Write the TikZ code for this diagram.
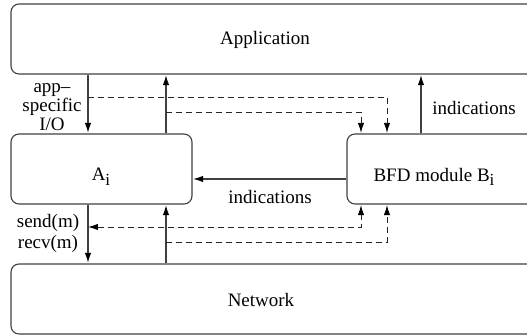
\documentclass[tikz,border=0pt]{standalone}
\usepackage{fontspec}
\setmainfont{Liberation Serif}
\usetikzlibrary{arrows.meta}
\newcommand{\sub}[1]{\raisebox{-0.55ex}{\fontsize{8.5}{8.5}\selectfont #1}}
\begin{document}
\begin{tikzpicture}[x=0.5pt,y=-0.5pt,
  font=\fontsize{9.5}{11}\selectfont,
  tip/.tip={Latex[length=5pt,width=3.2pt,color=black]},
  box/.style={draw=black!75,line width=0.55pt,rounded corners=4pt,inner sep=0pt},
  txt/.style={inner sep=0pt},
  sol/.style={draw=black!75,line width=0.55pt,-tip,shorten >=0.3pt},
  dsh/.style={draw=black!85,line width=0.45pt,dash pattern=on 3pt off 2pt,shorten >=0.3pt}]
\useasboundingbox (0,0) rectangle (527,335);
\clip (0,0) rectangle (527,335);
% boxes
\node[box,minimum width=270pt,minimum height=35pt] (app) at (281,39) {};
\node[box,minimum width=90.5pt,minimum height=35pt] (A) at (101.5,169) {};
\node[box,minimum width=100pt,minimum height=35pt] (B) at (447,169) {};
\node[box,minimum width=270pt,minimum height=35pt] (net) at (281,299) {};
% texts
\node[txt] (appt) at (265,40) {Application};
\node[txt] (At) at (101,177) {A\sub{i}};
\node[txt] (Bt) at (434,177) {BFD module B\sub{i}};
\node[txt] (nett) at (261,300) {Network};
% column coordinates
\coordinate (xa) at (88,0);
\coordinate (xb) at (166,0);
\coordinate (xc) at (421,0);
\coordinate (xd) at (361,0);
\coordinate (xe) at (387,0);
% solid arrows
\draw[sol] (app.south -| xa) -- (A.north -| xa);
\draw[sol] (A.north -| xb) -- (app.south -| xb);
\draw[sol] (B.north -| xc) -- (app.south -| xc);
\draw[sol] (B.west |- 0,179) -- (A.east |- 0,179);
\draw[sol] (A.south -| xa) -- (net.north -| xa);
\draw[sol] (net.north -| xb) -- (A.south -| xb);
% dashed connectors
\coordinate (d1) at (88,97);
\coordinate (d2) at (166,112);
\coordinate (d3) at (88,227);
\coordinate (d4) at (166,242);
\draw[dsh,-tip] (d1) -| (B.north -| xe);
\draw[dsh,-tip] (d2) -| (B.north -| xd);
\draw[dsh,tip-tip] (d3) -| (B.south -| xd);
\draw[dsh,-tip] (d4) -| (B.south -| xe);
% labels
\node[txt,align=center,font=\fontsize{9.5}{8.3}\selectfont] (lio) at (52,107) {app–\\specific\\I/O};
\node[txt,align=center,font=\fontsize{9.5}{10.5}\selectfont] (lsr) at (48,233) {send(m)\\recv(m)};
\node[txt] (lind1) at (474,108) {indications};
\node[txt] (lind2) at (270,197) {indications};
\end{tikzpicture}
\end{document}
